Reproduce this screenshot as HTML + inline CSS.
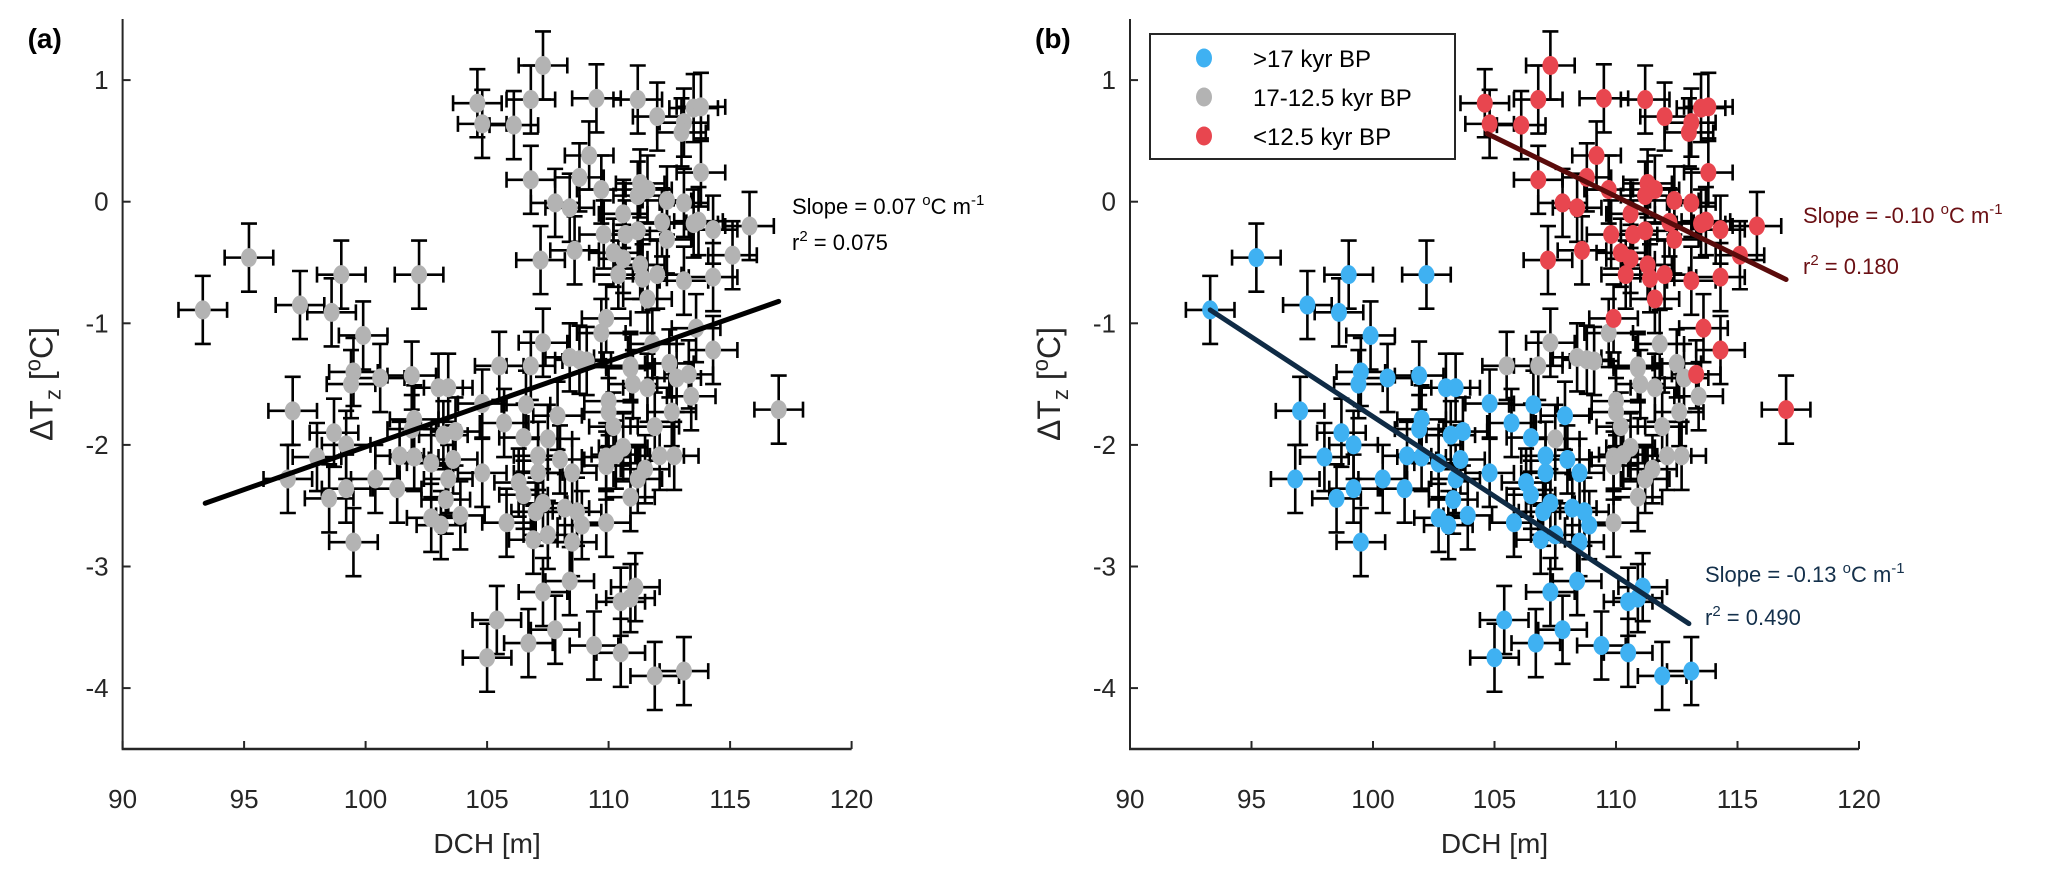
<!DOCTYPE html>
<html><head><meta charset="utf-8"><style>
html,body{margin:0;padding:0;background:#fff;}
svg{display:block;font-family:"Liberation Sans",Arial,sans-serif;}
</style></head><body>
<svg id="chart" width="2067" height="870" viewBox="0 0 2067 870" xmlns="http://www.w3.org/2000/svg">
<rect width="2067" height="870" fill="#fff"/>
<g id="pa"></g>
<g id="pb"></g>
</svg>
<script>
const blueX=[93.3,95.2,97.3,98.6,99.0,102.2,99.9,99.5,100.6,101.9,99.4,103.0,103.4,97.0,104.8,106.6,107.9,105.7,102.0,101.9,98.7,99.2,103.2,103.7,106.5,98.0,101.4,102.0,102.7,103.6,107.1,108.0,96.8,100.4,101.3,99.2,98.5,103.4,104.8,107.1,108.5,106.3,106.5,107.3,103.3,102.7,103.1,103.9,105.8,107.0,108.2,108.7,108.9,106.9,107.5,108.5,99.5,108.4,107.3,111.1,110.5,110.9,105.4,107.8,106.7,109.4,110.5,105.0,111.9,113.1];
const blueY=[-0.89,-0.46,-0.85,-0.91,-0.6,-0.6,-1.1,-1.4,-1.45,-1.43,-1.5,-1.53,-1.53,-1.72,-1.66,-1.67,-1.76,-1.82,-1.79,-1.87,-1.9,-2.0,-1.92,-1.89,-1.94,-2.1,-2.09,-2.1,-2.15,-2.12,-2.09,-2.12,-2.28,-2.28,-2.36,-2.36,-2.44,-2.28,-2.23,-2.23,-2.23,-2.31,-2.41,-2.48,-2.45,-2.6,-2.66,-2.58,-2.64,-2.55,-2.52,-2.55,-2.66,-2.78,-2.74,-2.8,-2.8,-3.12,-3.21,-3.17,-3.29,-3.26,-3.44,-3.52,-3.63,-3.65,-3.71,-3.75,-3.9,-3.86];
const grayX=[107.3,109.7,111.8,108.4,109.1,106.8,110.9,112.5,110.9,111.0,111.6,110.0,110.0,112.6,107.5,110.6,109.9,110.3,112.1,112.7,109.9,111.5,111.2,110.9,109.9,112.8,113.4,111.9,110.2,108.8,105.5];
const grayY=[-1.16,-1.08,-1.17,-1.28,-1.31,-1.35,-1.35,-1.33,-1.37,-1.5,-1.53,-1.64,-1.73,-1.73,-1.95,-2.02,-2.1,-2.08,-2.09,-2.09,-2.17,-2.2,-2.28,-2.43,-2.64,-1.45,-1.6,-1.85,-1.85,-1.3,-1.35];
const redX=[107.3,104.6,106.8,109.5,111.2,112.0,113.5,113.8,113.1,113.0,104.8,106.1,109.2,106.8,108.8,109.7,111.3,111.6,111.2,113.8,107.8,108.4,112.4,113.1,110.6,112.2,113.5,113.7,114.3,115.8,109.8,110.7,111.2,112.4,115.1,107.2,108.6,110.2,110.6,111.3,110.4,111.4,112.0,113.1,114.3,111.6,109.9,113.6,114.3,113.3,117.0];
const redY=[1.12,0.81,0.84,0.85,0.84,0.7,0.77,0.78,0.65,0.57,0.64,0.63,0.38,0.18,0.2,0.1,0.15,0.1,0.05,0.24,-0.01,-0.05,0.01,-0.01,-0.1,-0.17,-0.18,-0.16,-0.23,-0.2,-0.27,-0.27,-0.24,-0.31,-0.44,-0.48,-0.4,-0.42,-0.47,-0.52,-0.6,-0.63,-0.6,-0.65,-0.62,-0.8,-0.96,-1.04,-1.22,-1.42,-1.71];
const xTicks=[90,95,100,105,110,115,120];
const yTicks=[-4,-3,-2,-1,0,1];
const fitA=[[93.4,-2.48],[117.0,-0.82]];
const fitBlue=[[93.3,-0.89],[113.0,-3.47]];
const fitRed=[[104.7,0.56],[117.0,-0.64]];
const xErr=1.0, yErr=0.28;

const NS="http://www.w3.org/2000/svg";
function mk(parent,tag,attrs,txt){const e=document.createElementNS(NS,tag);for(const k in attrs)e.setAttribute(k,attrs[k]);if(txt!==undefined)e.textContent=txt;parent.appendChild(e);return e;}
const Y0=201.7, YU=121.6;
function ys(v){return Y0-v*YU;}
function makeX(x0){return v=>x0+(v-90)*24.3;}

function drawPanel(g,x0,label,colored){
  const xs=makeX(x0);
  // axes
  const ax=mk(g,'line',{x1:x0,y1:19,x2:x0,y2:749,stroke:'#262626','stroke-width':2});
  
  const bx=mk(g,'line',{x1:x0-1,y1:749,x2:xs(120),y2:749,stroke:'#262626','stroke-width':2.5});
  
  xTicks.forEach(t=>{
    const l=mk(g,'line',{x1:xs(t),y1:749,x2:xs(t),y2:741,stroke:'#262626','stroke-width':2});
    
    const tx=mk(g,'text',{x:xs(t),y:808,'font-size':26,'text-anchor':'middle',fill:'#262626'},String(t));
    
  });
  yTicks.forEach(t=>{
    const l=mk(g,'line',{x1:x0,y1:ys(t),x2:x0+8,y2:ys(t),stroke:'#262626','stroke-width':2});
    
    const tx=mk(g,'text',{x:x0-14,y:ys(t)+9,'font-size':26,'text-anchor':'end',fill:'#262626'},String(t));
    
  });
  const xl=mk(g,'text',{x:(x0+xs(120))/2,y:853,'font-size':28,'text-anchor':'middle',fill:'#262626'},'DCH [m]');
  
  const yl=mk(g,'text',{transform:`translate(${x0-70},384) rotate(-90)`,'font-size':32,'text-anchor':'middle',fill:'#262626'});
  
  yl.innerHTML='ΔT<tspan dy="8" font-size="22">z</tspan><tspan dy="-8"> [</tspan><tspan dy="-12" font-size="22">o</tspan><tspan dy="12">C]</tspan>';
  const pl=mk(g,'text',{x:x0-95,y:48,'font-size':28,'font-weight':'bold',fill:'#000'},label);
  

  const sets=[[grayX,grayY,'#b3b3b3','gray'],[blueX,blueY,colored?'#3fb1f2':'#b3b3b3','blue'],[redX,redY,colored?'#e8464f':'#b3b3b3','red']];
  const eg=mk(g,'g',{stroke:'#000','stroke-width':2.6,fill:'none'});
  
  sets.forEach(([X,Yv])=>{
    X.forEach((xv,i)=>{
      const cx=xs(xv),cy=ys(Yv[i]);
      const xa=xs(xv-xErr),xb=xs(xv+xErr),ya=ys(Yv[i]+yErr),yb=ys(Yv[i]-yErr);
      const p=mk(eg,'path',{d:`M${xa},${cy}H${xb}M${xa},${cy-8}V${cy+8}M${xb},${cy-8}V${cy+8}M${cx},${ya}V${yb}M${cx-8},${ya}H${cx+8}M${cx-8},${yb}H${cx+8}`});
      
    });
  });
  sets.forEach(([X,Yv,col,nm])=>{
    X.forEach((xv,i)=>{
      const c=mk(g,'ellipse',{cx:xs(xv),cy:ys(Yv[i]),rx:8,ry:9.5,fill:col});
      
    });
  });
  return xs;
}

const pa=document.getElementById('pa'), pb=document.getElementById('pb');
const xa=drawPanel(pa,122.6,'(a)',false);
const la=mk(pa,'line',{x1:xa(fitA[0][0]),y1:ys(fitA[0][1]),x2:xa(fitA[1][0]),y2:ys(fitA[1][1]),stroke:'#000','stroke-width':5,'stroke-linecap':'round'});

let t=mk(pa,'text',{x:792,y:214,'font-size':22,fill:'#000'});

t.innerHTML='Slope = 0.07 <tspan dy="-9" font-size="15">o</tspan><tspan dy="9">C m</tspan><tspan dy="-9" font-size="15">-1</tspan>';
t=mk(pa,'text',{x:792,y:250,'font-size':22,fill:'#000'});

t.innerHTML='r<tspan dy="-9" font-size="15">2</tspan><tspan dy="9"> =  0.075</tspan>';

const xb=drawPanel(pb,1130,'(b)',true);
let lb=mk(pb,'line',{x1:xb(fitBlue[0][0]),y1:ys(fitBlue[0][1]),x2:xb(fitBlue[1][0]),y2:ys(fitBlue[1][1]),stroke:'#0f2b45','stroke-width':5,'stroke-linecap':'round'});

lb=mk(pb,'line',{x1:xb(fitRed[0][0]),y1:ys(fitRed[0][1]),x2:xb(fitRed[1][0]),y2:ys(fitRed[1][1]),stroke:'#5a0b0b','stroke-width':5,'stroke-linecap':'round'});

t=mk(pb,'text',{x:1803,y:223,'font-size':22,fill:'#6b1014'});

t.innerHTML='Slope = -0.10 <tspan dy="-9" font-size="15">o</tspan><tspan dy="9">C m</tspan><tspan dy="-9" font-size="15">-1</tspan>';
t=mk(pb,'text',{x:1803,y:274,'font-size':22,fill:'#6b1014'});

t.innerHTML='r<tspan dy="-9" font-size="15">2</tspan><tspan dy="9"> =  0.180</tspan>';
t=mk(pb,'text',{x:1705,y:582,'font-size':22,fill:'#14304b'});

t.innerHTML='Slope = -0.13 <tspan dy="-9" font-size="15">o</tspan><tspan dy="9">C m</tspan><tspan dy="-9" font-size="15">-1</tspan>';
t=mk(pb,'text',{x:1705,y:625,'font-size':22,fill:'#14304b'});

t.innerHTML='r<tspan dy="-9" font-size="15">2</tspan><tspan dy="9"> =  0.490</tspan>';

// legend
const lg=mk(pb,'g',{});

mk(lg,'rect',{x:1150,y:34,width:305,height:125,fill:'#fff',stroke:'#262626','stroke-width':2});
const legLabels=['>17 kyr BP','17-12.5 kyr BP','<12.5 kyr BP'];
const legCols=['#3fb1f2','#b3b3b3','#e8464f'];
legLabels.forEach((s,i)=>{
  const e=mk(lg,'ellipse',{cx:1204,cy:58+i*39,rx:8,ry:9.5,fill:legCols[i]});
  
  const tx=mk(lg,'text',{x:1253,y:67+i*39,'font-size':24,fill:'#000'},s);
  
});
</script>
</body></html>
